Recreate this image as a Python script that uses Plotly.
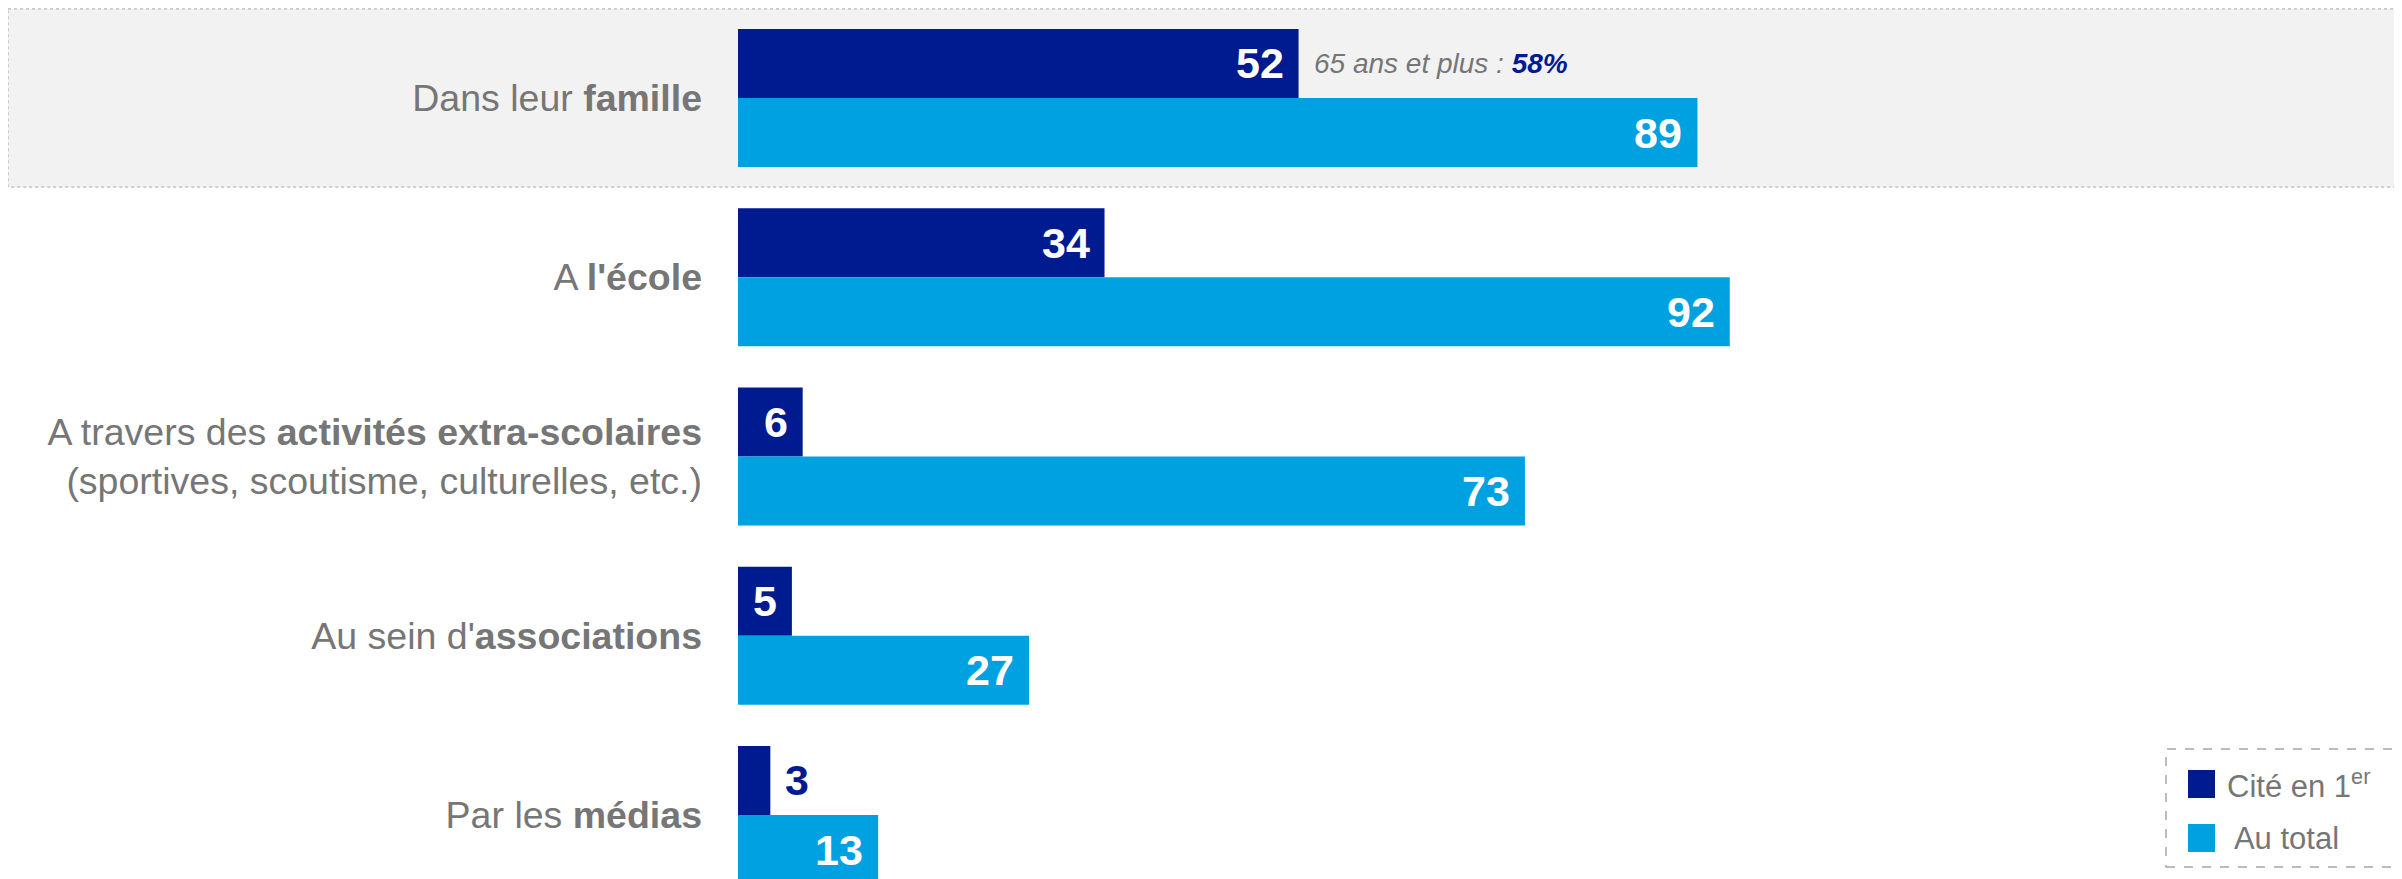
import plotly.graph_objects as go

# ---- data ----
categories = [
    "Dans leur <b>famille</b>",
    "A <b>l'école</b>",
    "A travers des <b>activités extra-scolaires</b><br>(sportives, scoutisme, culturelles, etc.)",
    "Au sein d'<b>associations</b>",
    "Par les <b>médias</b>",
]
cite_premier = [52, 34, 6, 5, 3]
au_total = [89, 92, 73, 27, 13]
series_names = ["Cité en 1<sup>er</sup>", " Au total"]
note_prefix = "65 ans et plus : "
note_value = "58%"

# ---- style ----
DARK = "#001A8F"
LIGHT = "#00A1E0"
GREY_TXT = "#767676"
FONT = "Arial, Liberation Sans, sans-serif"
W, H = 2402, 879
OFF = 8  # page body margin
ML = 738 - OFF
PW = W - ML


def px(xp):
    return (xp - OFF - ML) / PW


def py(yp):
    return 1 - (yp - OFF) / H


fig = go.Figure()
fig.add_trace(go.Bar(y=categories, x=cite_premier, orientation="h", name=series_names[0],
                     marker=dict(color=DARK, line=dict(width=0)), showlegend=False, hoverinfo="x"))
fig.add_trace(go.Bar(y=categories, x=au_total, orientation="h", name=series_names[1],
                     marker=dict(color=LIGHT, line=dict(width=0)), showlegend=False, hoverinfo="x"))

annotations = []
half = 0.1925
for i, v in enumerate(cite_premier):
    inside = v >= 4
    annotations.append(dict(x=v, y=i - half, xref="x", yref="y", text=f"<b>{v}</b>", showarrow=False,
                            xanchor="right" if inside else "left", xshift=-13 if inside else 13,
                            font=dict(family=FONT, size=43, color="white" if inside else DARK)))
for i, v in enumerate(au_total):
    annotations.append(dict(x=v, y=i + half, xref="x", yref="y", text=f"<b>{v}</b>", showarrow=False,
                            xanchor="right", xshift=-13,
                            font=dict(family=FONT, size=43, color="white")))
# note next to first bar
annotations.append(dict(x=cite_premier[0], y=0 - half, xref="x", yref="y",
                        text=f"<i>{note_prefix}<span style='color:{DARK}'><b>{note_value}</b></span></i>",
                        showarrow=False, xanchor="left", xshift=13,
                        font=dict(family=FONT, size=28, color=GREY_TXT)))

shapes = []
# highlight box around first category
shapes.append(dict(type="rect", xref="paper", yref="y", x0=px(8), x1=px(2400), y0=-0.497, y1=0.497,
                   fillcolor="#F2F2F2", line=dict(color="#A6A6A6", width=1, dash="dot"), layer="below"))
# legend (drawn manually)
shapes.append(dict(type="rect", xref="paper", yref="paper", x0=px(2166), x1=px(2400), y0=py(867), y1=py(749),
                   fillcolor="rgba(0,0,0,0)", line=dict(color="#A6A6A6", width=1.5, dash="dash")))
leg_colors = [DARK, LIGHT]
leg_rows = [784, 838]
for c, yc, name in zip(leg_colors, leg_rows, series_names):
    shapes.append(dict(type="rect", xref="paper", yref="paper", x0=px(2188), x1=px(2215),
                       y0=py(yc + 14), y1=py(yc - 14), fillcolor=c, line=dict(width=0)))
    annotations.append(dict(x=px(2225), y=py(yc), xref="paper", yref="paper", text=name, showarrow=False,
                            xanchor="left", yanchor="middle",
                            font=dict(family=FONT, size=31, color=GREY_TXT)))

CAT0 = 98 - OFF
STEP = 179.25
fig.update_layout(
    width=W, height=H,
    margin=dict(l=ML, r=0, t=0, b=0, pad=0),
    paper_bgcolor="white", plot_bgcolor="rgba(0,0,0,0)",
    barmode="group", bargap=0.23, bargroupgap=0,
    shapes=shapes, annotations=annotations,
    font=dict(family=FONT),
    xaxis=dict(range=[0, PW / 10.78], visible=False, fixedrange=True),
    yaxis=dict(categoryorder="array", categoryarray=categories,
               range=[(H - CAT0) / STEP, -CAT0 / STEP],
               showgrid=False, zeroline=False, showline=False, ticks="",
               ticklabelstandoff=35,
               tickfont=dict(family=FONT, size=37.5, color=GREY_TXT)),
)

fig.write_html("out.html")
